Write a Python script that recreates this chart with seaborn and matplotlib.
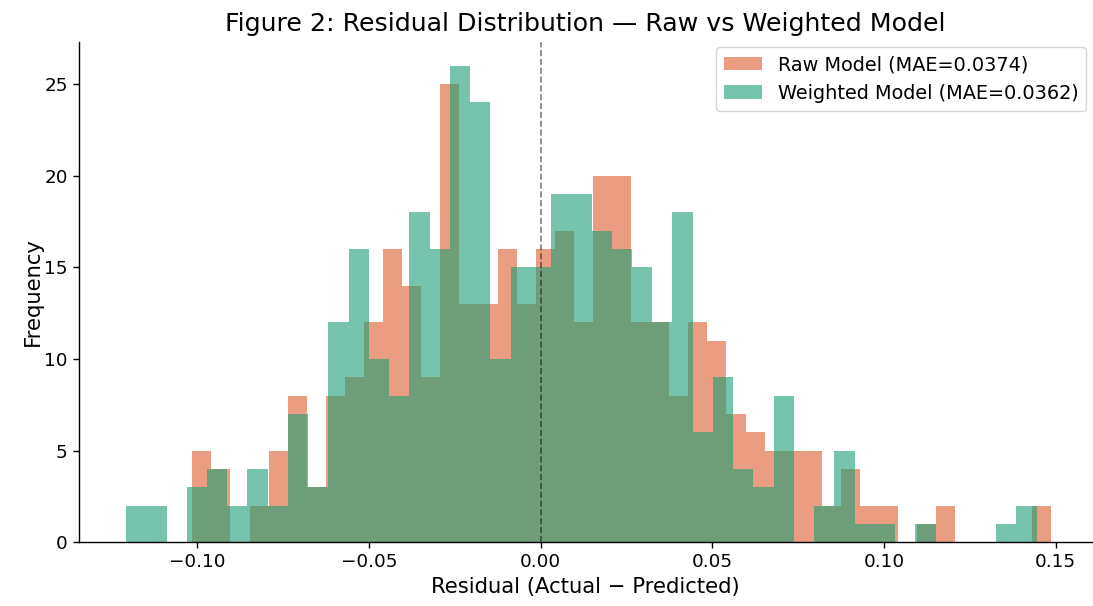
import numpy as np
import pandas as pd
import matplotlib
matplotlib.use("Agg")
import matplotlib.pyplot as plt
import seaborn as sns

# ---- data ----
n_bins = 45
raw_range = (-0.1015, 0.1486)
weighted_range = (-0.1208, 0.1445)
raw_counts = [5, 4, 0, 2, 5, 8, 3, 8, 9, 12,
              16, 14, 9, 25, 13, 13, 16, 13, 16, 17,
              12, 20, 20, 12, 12, 8, 12, 11, 7, 6,
              5, 5, 5, 2, 4, 2, 2, 0, 1, 2,
              0, 0, 0, 0, 2]
weighted_counts = [2, 2, 0, 3, 4, 2, 4, 2, 7, 3,
                   12, 16, 10, 8, 18, 16, 26, 24, 10, 15,
                   15, 19, 19, 17, 16, 15, 12, 18, 6, 9,
                   4, 3, 8, 0, 2, 5, 1, 1, 0, 1,
                   0, 0, 0, 1, 2]
raw_label = "Raw Model (MAE=0.0374)"
weighted_label = "Weighted Model (MAE=0.0362)"
x_ticks = [-0.10, -0.05, 0.0, 0.05, 0.10, 0.15]
y_ticks = [0, 5, 10, 15, 20, 25]

raw_color = "#dc5c2b"
weighted_color = "#1b9e77"

plt.rcParams['font.family'] = ['DejaVu Sans']
plt.rcParams['axes.linewidth'] = 1.0
plt.rcParams['xtick.major.size'] = 4.4
plt.rcParams['ytick.major.size'] = 4.4
plt.rcParams['xtick.major.width'] = 1.0
plt.rcParams['ytick.major.width'] = 1.0

fig = plt.figure(figsize=(10.93, 6.06), dpi=100)
ax = fig.add_axes([78.7 / 1093, 63.7 / 606, (1092 - 78.7) / 1093, (542.3 - 41.7) / 606])

def draw(counts, rng, color, label):
    edges = np.linspace(rng[0], rng[1], n_bins + 1)
    centers = (edges[:-1] + edges[1:]) / 2
    df = pd.DataFrame({"residual": centers, "count": np.asarray(counts, dtype=float)})
    sns.histplot(data=df, x="residual", weights="count", bins=n_bins, binrange=rng,
                 color=color, alpha=0.6, linewidth=0,
                 label=label, ax=ax)

draw(raw_counts, raw_range, raw_color, raw_label)
draw(weighted_counts, weighted_range, weighted_color, weighted_label)

ax.axvline(0, color="black", linestyle="--", linewidth=1.2, alpha=0.5)
ax.set_xlim(-0.1346, 0.1606)
ax.set_ylim(0, 27.3)
ax.set_xticks(x_ticks)
ax.set_yticks(y_ticks)
ax.tick_params(labelsize=13.2, colors="black")
ax.set_xlabel("Residual (Actual \u2212 Predicted)", fontsize=15.2, color="black")
ax.set_ylabel("Frequency", fontsize=15.2, color="black", labelpad=1)
ax.set_title("Figure 2: Residual Distribution \u2014 Raw vs Weighted Model",
             fontsize=18.2, color="black", pad=8)
sns.despine(ax=ax)
ax.legend(loc="upper right", fontsize=13.9, borderaxespad=0.3)

fig.savefig("out.png", dpi=100)
